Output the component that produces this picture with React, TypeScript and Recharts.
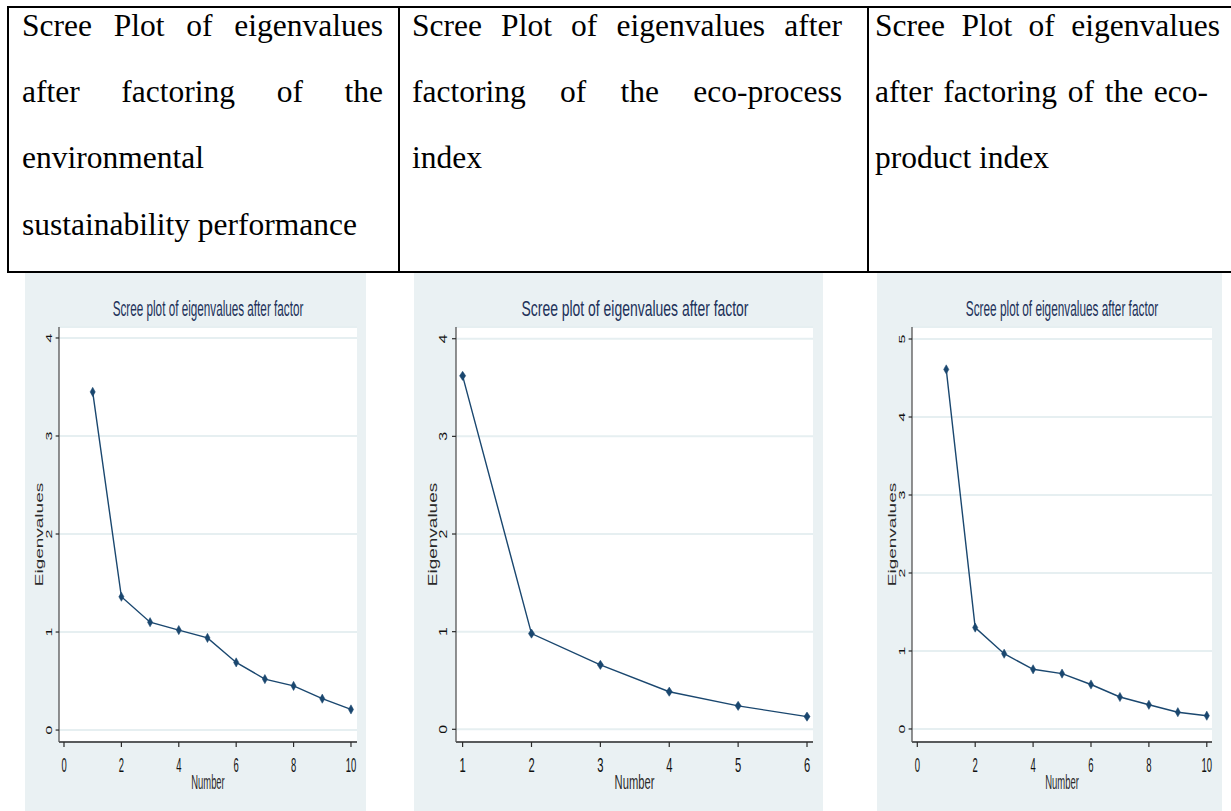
import { LineChart, Line, XAxis, YAxis, CartesianGrid, Label } from "recharts";

// eigenvalues
const ENV_NUMBER = [1, 2, 3, 4, 5, 6, 7, 8, 9, 10];
const ENV_EIGEN = [3.45, 1.36, 1.1, 1.02, 0.94, 0.69, 0.52, 0.45, 0.32, 0.21];

const PROCESS_NUMBER = [1, 2, 3, 4, 5, 6];
const PROCESS_EIGEN = [3.62, 0.98, 0.66, 0.385, 0.24, 0.13];

const PRODUCT_NUMBER = [1, 2, 3, 4, 5, 6, 7, 8, 9, 10];
const PRODUCT_EIGEN = [4.61, 1.3, 0.965, 0.765, 0.71, 0.57, 0.41, 0.31, 0.215, 0.17];

const X_TICKS_TEN = [0, 2, 4, 6, 8, 10];
const X_TICKS_SIX = [1, 2, 3, 4, 5, 6];
const Y_TICKS_FOUR = [0, 1, 2, 3, 4];
const Y_TICKS_FIVE = [0, 1, 2, 3, 4, 5];

const PLOT_TITLE = "Scree plot of eigenvalues after factor";
const X_TITLE = "Number";
const Y_TITLE = "Eigenvalues";

const HEADER_ENV = [
  "Scree Plot of eigenvalues",
  "after factoring of the",
  "environmental",
  "sustainability performance",
];
const HEADER_PROCESS = [
  "Scree Plot of eigenvalues after",
  "factoring of the eco-process",
  "index",
];
const HEADER_PRODUCT = [
  "Scree Plot of eigenvalues",
  "after factoring of the eco-",
  "product index",
];

const NAVY = "#1a476f";
const INK = "#111";
const BG = "#eaf1f3";
const SANS = '"Liberation Sans", Arial, sans-serif';
const SERIF = '"Liberation Serif", "Times New Roman", serif';

const PANEL_TOP = 273;
const PANEL_H = 538;
const PLOT_TOP = 54;
const X_AXIS_H = 69;
const PLOT_BOTTOM = PANEL_H - X_AXIS_H;

const LINE_BASELINES = [36, 102, 168, 235];

interface HeaderColumnProps {
  lines: string[];
  left: number;
  widths: number[];
}

function HeaderColumn({ lines, left, widths }: HeaderColumnProps) {
  return (
    <>
      {lines.map((line, i) => (
        <div
          key={i}
          style={{
            position: "absolute",
            left,
            top: LINE_BASELINES[i] - 28,
            width: widths[Math.min(i, widths.length - 1)],
            fontFamily: SERIF,
            fontSize: 31.5,
            lineHeight: "35px",
            color: "#000",
            whiteSpace: "nowrap",
            textAlign: i < lines.length - 1 ? "justify" : "left",
            textAlignLast: i < lines.length - 1 ? "justify" : "left",
          }}
        >
          {line}
        </div>
      ))}
    </>
  );
}

interface ScreePlotProps {
  numbers: number[];
  eigen: number[];
  xTicks: number[];
  yTicks: number[];
  xDomain: [number, number];
  yDomain: [number, number];
  left: number;
  width: number;
  axisW: number;
  right: number;
  sx: number;
}

function ScreePlot({
  numbers,
  eigen,
  xTicks,
  yTicks,
  xDomain,
  yDomain,
  left,
  width,
  axisW,
  right,
  sx,
}: ScreePlotProps) {
  const data = numbers.map((n, i) => ({ n, ev: eigen[i] }));
  const plotW = width - axisW - right;
  const midX = axisW + plotW / 2;
  const midY = PLOT_TOP + (PLOT_BOTTOM - PLOT_TOP) / 2;

  const diamond = (p: any) => {
    const { cx, cy, index } = p;
    const hw = 4.6 * sx;
    const hh = 4.6;
    return (
      <path
        key={`dot-${index}`}
        d={`M${cx},${cy - hh}L${cx + hw},${cy}L${cx},${cy + hh}L${cx - hw},${cy}Z`}
        fill={NAVY}
        stroke={NAVY}
        strokeWidth={0.5}
      />
    );
  };

  const yTick = (p: any) => (
    <text
      transform={`translate(${axisW - 13 * sx},${p.y}) scale(${sx},1) rotate(-90)`}
      textAnchor="middle"
      fontSize={16}
      fontFamily={SANS}
      fill={INK}
    >
      {p.payload.value}
    </text>
  );

  const xTick = (p: any) => (
    <text
      transform={`translate(${p.x},${PLOT_BOTTOM + 30}) scale(${sx * 0.8},1)`}
      textAnchor="middle"
      fontSize={21}
      fontFamily={SANS}
      fill={INK}
    >
      {p.payload.value}
    </text>
  );

  return (
    <div
      style={{
        position: "absolute",
        left,
        top: PANEL_TOP,
        width,
        height: PANEL_H,
        background: BG,
      }}
    >
      <div
        style={{
          position: "absolute",
          left: midX - 300,
          width: 600,
          top: 317 - PANEL_TOP - 19,
          fontFamily: SANS,
          fontSize: 22,
          lineHeight: "22px",
          color: "#22325a",
          textAlign: "center",
          whiteSpace: "nowrap",
          transform: `scaleX(${sx * 0.95})`,
          transformOrigin: "50% 50%",
        }}
      >
        {PLOT_TITLE}
      </div>
      <LineChart
        width={width}
        height={PANEL_H}
        data={data}
        margin={{ top: PLOT_TOP, right, bottom: 0, left: 0 }}
        style={{ position: "absolute", left: 0, top: 0 }}
      >
        <CartesianGrid
          vertical={false}
          fill="#ffffff"
          stroke="#e6eff1"
          strokeWidth={2}
        />
        <XAxis
          dataKey="n"
          type="number"
          domain={xDomain}
          ticks={xTicks}
          allowDataOverflow
          height={X_AXIS_H}
          tickSize={5}
          tickMargin={0}
          tick={xTick}
          axisLine={{ stroke: "#2a2a2a", strokeWidth: 1.5 }}
          tickLine={{ stroke: "#2a2a2a", strokeWidth: 1.2 }}
        >
          <Label
            content={() => (
              <text
                transform={`translate(${midX},${PLOT_BOTTOM + 47}) scale(${sx * 0.8},1)`}
                textAnchor="middle"
                fontSize={21}
                fontFamily={SANS}
                fill="#2a2a2a"
              >
                {X_TITLE}
              </text>
            )}
          />
        </XAxis>
        <YAxis
          type="number"
          domain={yDomain}
          ticks={yTicks}
          allowDataOverflow
          width={axisW}
          tickSize={6 * sx}
          tickMargin={0}
          tick={yTick}
          axisLine={{ stroke: "#555", strokeWidth: 1.3 }}
          tickLine={{ stroke: "#2a2a2a", strokeWidth: 1.2 }}
        >
          <Label
            content={() => (
              <text
                transform={`translate(${axisW - 28 * sx},${midY}) scale(${sx},1) rotate(-90)`}
                textAnchor="middle"
                fontSize={19}
                fontFamily={SANS}
                fill="#2a2a2a"
              >
                {Y_TITLE}
              </text>
            )}
          />
        </YAxis>
        <Line
          type="linear"
          dataKey="ev"
          stroke={NAVY}
          strokeWidth={1.4}
          dot={diamond}
          activeDot={false}
          isAnimationActive={false}
        />
      </LineChart>
    </div>
  );
}

export default function App() {
  const rule = { position: "absolute" as const, background: "#000" };
  return (
    <div
      style={{
        position: "absolute",
        left: 0,
        top: 0,
        width: 1231,
        height: 811,
        overflow: "hidden",
        background: "#fff",
      }}
    >
      {/* table frame */}
      <div style={{ ...rule, left: 7, top: 6, width: 1224, height: 2 }} />
      <div style={{ ...rule, left: 7, top: 271, width: 1224, height: 2 }} />
      <div style={{ ...rule, left: 7, top: 6, width: 2, height: 267 }} />
      <div style={{ ...rule, left: 398, top: 6, width: 2, height: 267 }} />
      <div style={{ ...rule, left: 867, top: 6, width: 2, height: 267 }} />

      <HeaderColumn lines={HEADER_ENV} left={22} widths={[361]} />
      <HeaderColumn lines={HEADER_PROCESS} left={412} widths={[430]} />
      <HeaderColumn lines={HEADER_PRODUCT} left={875} widths={[345, 333]} />

      <ScreePlot
        numbers={ENV_NUMBER}
        eigen={ENV_EIGEN}
        xTicks={X_TICKS_TEN}
        yTicks={Y_TICKS_FOUR}
        xDomain={[-0.174, 10.21]}
        yDomain={[-0.122, 4.112]}
        left={25}
        width={341}
        axisW={34}
        right={9}
        sx={0.56}
      />
      <ScreePlot
        numbers={PROCESS_NUMBER}
        eigen={PROCESS_EIGEN}
        xTicks={X_TICKS_SIX}
        yTicks={Y_TICKS_FOUR}
        xDomain={[0.904, 6.087]}
        yDomain={[-0.13, 4.12]}
        left={414}
        width={409}
        axisW={42}
        right={10}
        sx={0.667}
      />
      <ScreePlot
        numbers={PRODUCT_NUMBER}
        eigen={PRODUCT_EIGEN}
        xTicks={X_TICKS_TEN}
        yTicks={Y_TICKS_FIVE}
        xDomain={[-0.183, 10.18]}
        yDomain={[-0.167, 5.154]}
        left={877}
        width={345}
        axisW={35}
        right={10}
        sx={0.565}
      />
    </div>
  );
}
